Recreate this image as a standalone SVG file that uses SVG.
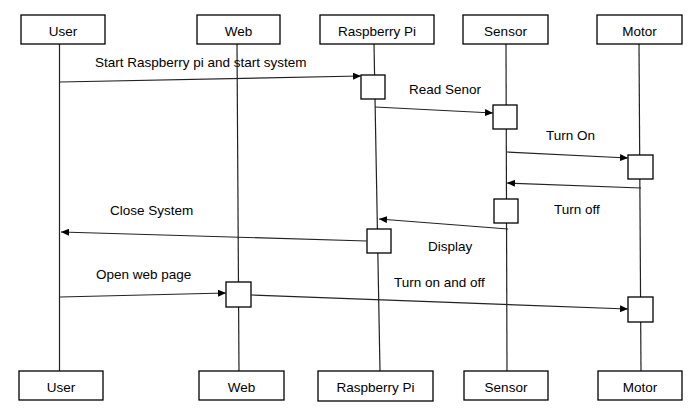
<svg xmlns="http://www.w3.org/2000/svg" width="696" height="417" viewBox="0 0 696 417">
<style>
.box{fill:#fff;stroke:#000;stroke-width:1.3}
.act{fill:#fff;stroke:#000;stroke-width:1.3}
.life{stroke:#222;stroke-width:1.2;fill:none}
.msg{stroke:#222;stroke-width:1.2;fill:none;marker-end:url(#ah)}
text{font-family:"Liberation Sans",Arial,sans-serif;font-size:13.5px;fill:#000}
.c{text-anchor:middle}
</style>
<defs>
<marker id="ah" markerWidth="8" markerHeight="7" refX="8" refY="3.5" orient="auto" markerUnits="userSpaceOnUse">
<path d="M0,0 L8,3.5 L0,7 z" fill="#000"/>
</marker>
</defs>
<rect width="696" height="417" fill="#fff"/>
<g id="lifelines">
<line class="life" x1="59.5" y1="44" x2="59.5" y2="371"/>
<line class="life" x1="237" y1="44" x2="239" y2="371"/>
<line class="life" x1="374" y1="44" x2="380" y2="371"/>
<line class="life" x1="506" y1="44" x2="507" y2="371"/>
<line class="life" x1="639" y1="44" x2="641" y2="371"/>
</g>
<g id="user-top"><rect class="box" x="21" y="15" width="84" height="29"/><text class="c" x="63" y="36">User</text></g>
<g id="web-top"><rect class="box" x="197" y="15" width="83" height="29"/><text class="c" x="238.5" y="36">Web</text></g>
<g id="rpi-top"><rect class="box" x="320" y="15" width="114" height="29"/><text class="c" x="377" y="36">Raspberry Pi</text></g>
<g id="sensor-top"><rect class="box" x="463" y="15" width="85" height="29"/><text class="c" x="505.5" y="36">Sensor</text></g>
<g id="motor-top"><rect class="box" x="597" y="15" width="85" height="29"/><text class="c" x="639.5" y="36">Motor</text></g>
<g id="user-bottom"><rect class="box" x="19" y="371" width="84" height="29"/><text class="c" x="61" y="392">User</text></g>
<g id="web-bottom"><rect class="box" x="199" y="371" width="85" height="29"/><text class="c" x="241.5" y="392">Web</text></g>
<g id="rpi-bottom"><rect class="box" x="318" y="371" width="115" height="30"/><text class="c" x="375.5" y="392">Raspberry Pi</text></g>
<g id="sensor-bottom"><rect class="box" x="464" y="371" width="84" height="29"/><text class="c" x="506" y="392">Sensor</text></g>
<g id="motor-bottom"><rect class="box" x="598" y="371" width="84" height="29"/><text class="c" x="640" y="392">Motor</text></g>
<g id="activations">
<rect class="act" x="361" y="75" width="24" height="24"/>
<rect class="act" x="493" y="105" width="24" height="24"/>
<rect class="act" x="628" y="155" width="25" height="24"/>
<rect class="act" x="494" y="199" width="24" height="24"/>
<rect class="act" x="367" y="229" width="24" height="24"/>
<rect class="act" x="226" y="282" width="25" height="25"/>
<rect class="act" x="628" y="297" width="25" height="25"/>
</g>
<g id="connectors">
<line class="msg" x1="60" y1="82" x2="361" y2="76"/>
<line class="msg" x1="375" y1="107" x2="493" y2="113"/>
<line class="msg" x1="507" y1="152" x2="628" y2="158"/>
<line class="msg" x1="641" y1="188" x2="507" y2="183"/>
<line class="msg" x1="508" y1="229" x2="379" y2="219"/>
<line class="msg" x1="367" y1="241" x2="61" y2="232"/>
<line class="msg" x1="60" y1="297" x2="226" y2="293"/>
<line class="msg" x1="251" y1="295" x2="628" y2="309"/>
</g>
<g id="labels">
<text x="95" y="67">Start Raspberry pi and start system</text>
<text x="409" y="94">Read Senor</text>
<text x="546" y="140">Turn On</text>
<text x="554" y="214">Turn off</text>
<text x="428" y="251">Display</text>
<text x="110" y="215">Close System</text>
<text x="96" y="279">Open web page</text>
<text x="394" y="287">Turn on and off</text>
</g>
</svg>
